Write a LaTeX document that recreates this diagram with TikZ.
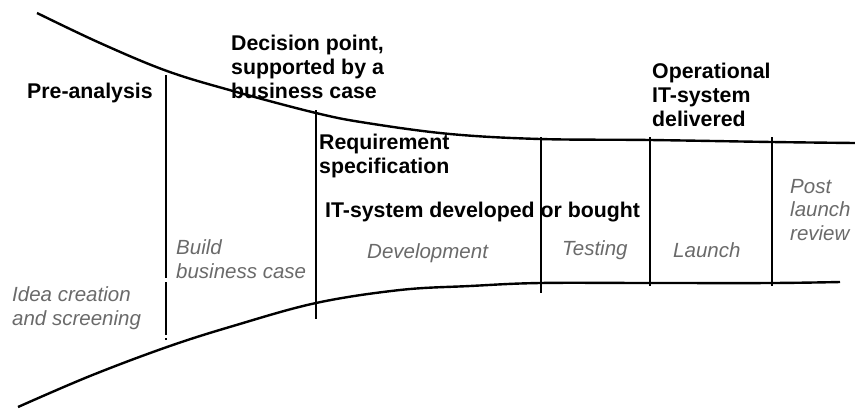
\documentclass[tikz,border=0pt]{standalone}
\usepackage{fontspec}
\setmainfont{Liberation Sans}
\usepackage{tikz}
\usetikzlibrary{positioning}
\definecolor{phasegray}{RGB}{106,106,106}

\begin{document}
\begin{tikzpicture}[
        x=1pt, y=-1pt,
        every node/.style={inner sep=0pt, anchor=base west, align=left},
        milestone/.style={font=\fontsize{21.3}{24}\selectfont\bfseries},
        phase/.style={font=\fontsize{20.5}{23.5}\selectfont\itshape, text=phasegray},
        funnel/.style={line width=2.4pt},
        gate/.style={line width=2.6pt},
    ]
    \useasboundingbox (0,0) rectangle (855,408);
    % upper and lower edge of the funnel
    \draw[funnel] plot[smooth, tension=0.6] coordinates {(37,13) (100,43) (167,71) (233,91) (316,113)
        (367,123) (450,134) (540,139) (650,140) (772,142) (855,143)};
    \draw[funnel] plot[smooth, tension=0.6] coordinates {(18,407) (90,376) (167,347) (233,326) (316,303)
        (400,290) (470,286) (540,283) (650,283) (772,283) (840,282)};
    % gates between the phases
    \draw[gate] (166,75) -- (166,278) (166,282) -- (166,335) (166,338) -- (166,340);
    \draw[gate] (316,110) -- (316,319);
    \draw[gate] (541,137) -- (541,293);
    \draw[gate] (650,137) -- (650,286);
    \draw[gate] (772,137) -- (772,286);
    % decisions and deliverables (base = last line)
    \node[milestone] (pre) at (27,98) {Pre-analysis};
    \node[milestone] (decision) at (231,98) {Decision point,\\supported by a\\business case};
    \node[milestone] (req) at (319,173) {Requirement\\specification};
    \node[milestone] (itsys) at (325,217) {IT-system developed or bought};
    \node[milestone] (oper) at (652,126) {Operational\\IT-system\\delivered};
    % phases
    \node[phase] (idea) at (12,325) {Idea creation\\and screening};
    \node[phase] (build) at (176,278) {Build\\business case};
    \node[phase] (dev) at (367,258) {Development};
    \node[phase] (test) at (562,255) {Testing};
    \node[phase] (launch) at (673,257) {Launch};
    \node[phase] (post) at (790,240) {Post\\launch\\review};
\end{tikzpicture}
\end{document}
